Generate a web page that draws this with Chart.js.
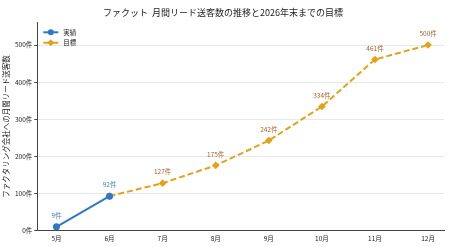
<!DOCTYPE html>
<html>
<head>
<meta charset="utf-8">
<script src="https://cdn.jsdelivr.net/npm/chart.js@4"></script>
<style>
  html, body { margin: 0; padding: 0; background: #fff; }
  #wrap { width: 450px; height: 247px; }
</style>
</head>
<body>
<div id="wrap"><canvas id="leads"></canvas></div>
<script>
var months = ['5月', '6月', '7月', '8月', '9月', '10月', '11月', '12月'];
var actualData = [9, 92, null, null, null, null, null, null];
var targetData = [null, 92, 127, 175, 242, 334, 461, 500];
var yTicks = [0, 100, 200, 300, 400, 500];

var fontFamily = '"Noto Sans CJK JP", "DejaVu Sans", sans-serif';

function toPoints(arr) {
    return arr.map(function(v, i) { return { x: i, y: v }; });
}

// value labels above points
var pointLabels = {
    id: 'pointLabels',
    afterDatasetsDraw: function(chart) {
        var ctx = chart.ctx;
        ctx.save();
        ctx.font = '6.5px ' + fontFamily;
        ctx.textAlign = 'center';
        ctx.textBaseline = 'bottom';
        chart.data.datasets.forEach(function(ds, i) {
            var meta = chart.getDatasetMeta(i);
            meta.data.forEach(function(pt, j) {
                var v = ds.data[j].y;
                if (v === null) return;
                if (i === 1 && j === 1) return;
                ctx.fillStyle = ds.labelColor;
                ctx.fillText(v + '件', pt.x, pt.y - 8);
            });
        });
        ctx.restore();
    }
};

// legend in the upper left of the plot, line + marker like the original
var innerLegend = {
    id: 'innerLegend',
    afterDraw: function(chart) {
        var ctx = chart.ctx;
        var area = chart.chartArea;
        ctx.save();
        ctx.font = '6.5px ' + fontFamily;
        ctx.textBaseline = 'middle';
        chart.data.datasets.forEach(function(ds, i) {
            var y = area.top + 9.5 + i * 10.5;
            var x0 = area.left + 6;
            ctx.strokeStyle = ds.borderColor;
            ctx.lineWidth = 2;
            ctx.setLineDash(ds.borderDash || []);
            ctx.beginPath();
            ctx.moveTo(x0, y);
            ctx.lineTo(x0 + 15, y);
            ctx.stroke();
            ctx.setLineDash([]);
            ctx.fillStyle = ds.borderColor;
            ctx.beginPath();
            if (ds.pointStyle === 'circle') {
                ctx.arc(x0 + 7.5, y, 3, 0, Math.PI * 2);
            } else {
                ctx.moveTo(x0 + 7.5, y - 3.5);
                ctx.lineTo(x0 + 11, y);
                ctx.lineTo(x0 + 7.5, y + 3.5);
                ctx.lineTo(x0 + 4, y);
                ctx.closePath();
            }
            ctx.fill();
            ctx.fillStyle = '#222';
            ctx.fillText(ds.label, x0 + 20, y);
        });
        ctx.restore();
    }
};

var leadChart = new Chart(document.getElementById('leads'), {
    type: 'line',
    data: {
        datasets: [{
            label: '実績',
            data: toPoints(actualData),
            borderColor: '#2f78c8',
            backgroundColor: '#2f78c8',
            labelColor: '#3f7fc4',
            borderWidth: 2,
            pointStyle: 'circle',
            pointRadius: 3.5,
            pointBorderWidth: 0,
            spanGaps: false
        }, {
            label: '目標',
            data: toPoints(targetData),
            borderColor: '#e3a21a',
            backgroundColor: '#e3a21a',
            labelColor: '#a8642a',
            borderWidth: 2,
            borderDash: [6, 3],
            pointStyle: 'rectRot',
            pointRadius: 3.8,
            pointBorderWidth: 0,
            spanGaps: false
        }]
    },
    options: {
        responsive: true,
        maintainAspectRatio: false,
        animation: false,
        layout: { padding: { left: 2, right: 6, top: 0, bottom: 4 } },
        plugins: {
            title: {
                display: true,
                text: 'ファクット  月間リード送客数の推移と2026年末までの目標',
                color: '#222',
                font: { family: fontFamily, size: 9, weight: 'normal' },
                padding: { top: 7, bottom: 5 }
            },
            legend: { display: false },
            tooltip: { enabled: false }
        },
        scales: {
            x: {
                type: 'linear',
                min: -0.36,
                max: 7.3,
                afterBuildTicks: function(axis) {
                    axis.ticks = months.map(function(m, i) { return { value: i }; });
                },
                grid: { display: false, drawOnChartArea: false, tickLength: 3, tickColor: '#444' },
                border: { color: '#444' },
                ticks: {
                    color: '#222',
                    font: { family: fontFamily, size: 6.5 },
                    padding: 1,
                    callback: function(v) { return months[v]; }
                }
            },
            y: {
                min: 0,
                max: 560,
                afterBuildTicks: function(axis) {
                    axis.ticks = yTicks.map(function(v) { return { value: v }; });
                },
                grid: { color: '#e8e8e8', tickLength: 3, tickColor: '#444' },
                border: { color: '#444' },
                ticks: {
                    color: '#222',
                    font: { family: fontFamily, size: 6.5 },
                    padding: 2,
                    callback: function(v) { return v + '件'; }
                },
                title: {
                    display: true,
                    text: 'ファクタリング会社への月間リード送客数',
                    color: '#222',
                    font: { family: fontFamily, size: 7.5 },
                    padding: { top: 0, bottom: 2 }
                }
            }
        }
    },
    plugins: [pointLabels, innerLegend]
});
</script>
</body>
</html>
